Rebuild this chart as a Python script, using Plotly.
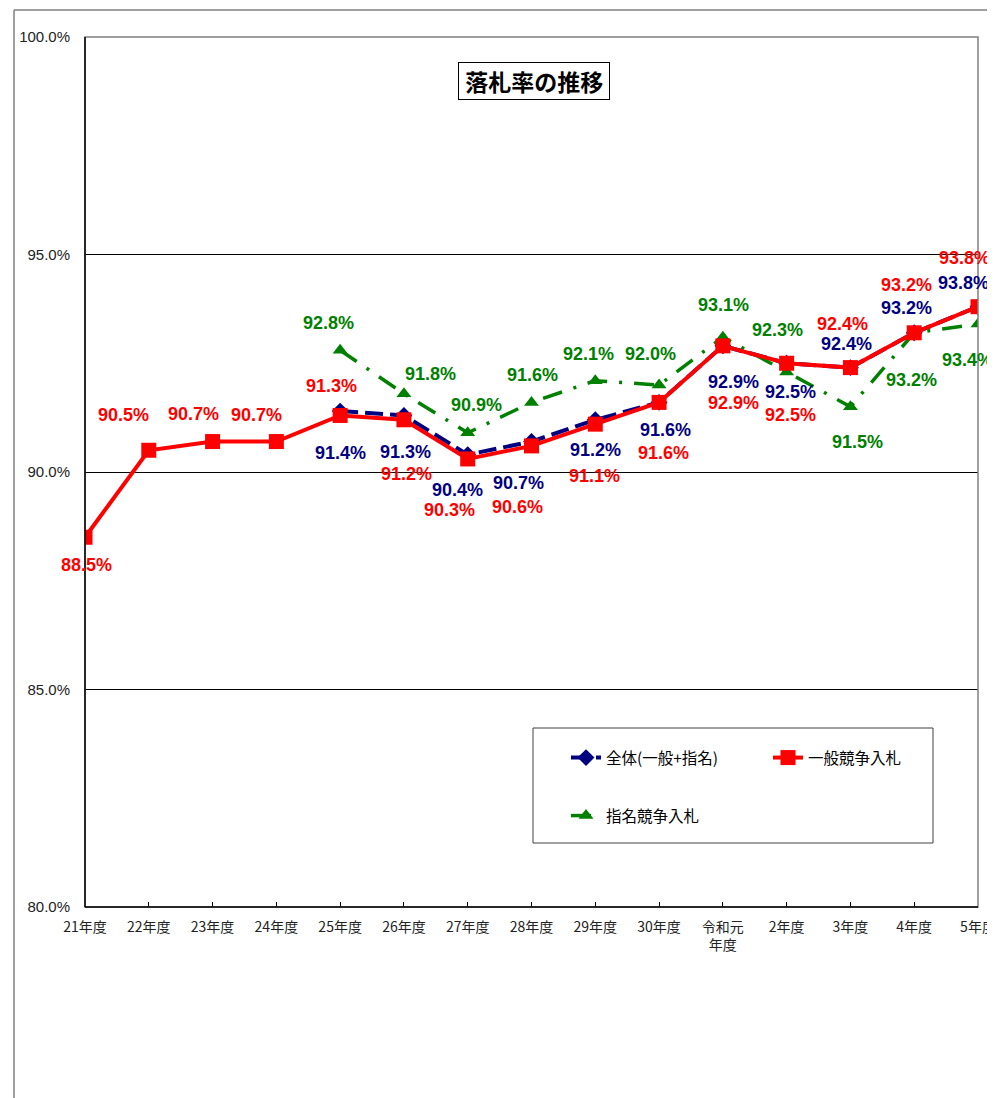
import plotly.graph_objects as go

categories = ["21年度", "22年度", "23年度", "24年度", "25年度", "26年度", "27年度", "28年度",
              "29年度", "30年度", "令和元<br>年度", "2年度", "3年度", "4年度", "5年度"]
zentai = [None, None, None, None, 91.4, 91.3, 90.4, 90.7, 91.2, 91.6, 92.9, 92.5, 92.4, 93.2, 93.8]
ippan = [88.5, 90.5, 90.7, 90.7, 91.3, 91.2, 90.3, 90.6, 91.1, 91.6, 92.9, 92.5, 92.4, 93.2, 93.8]
shimei = [None, None, None, None, 92.8, 91.8, 90.9, 91.6, 92.1, 92.0, 93.1, 92.3, 91.5, 93.2, 93.4]
y_ticks = [80, 85, 90, 95, 100]

# label offsets in pixels (dx, dy-down)
off_zentai = [None, None, None, None, (0, 42), (2, 37), (-10, 35), (-13, 41), (0, 30), (6, 28),
              (11, 36), (4, 29), (-4, -24), (-8, -25), (-15, -24)]
off_ippan = [(1, 28), (-25, -35), (-19, -28), (-20, -27), (-9, -29), (3, 54), (-18, 51), (-14, 61),
             (-1, 52), (4, 51), (11, 57), (4, 52), (-8, -44), (-8, -48), (-14, -49)]
off_shimei = [None, None, None, None, (-12, -27), (27, -20), (9, -28), (1, -27), (-7, -27), (-9, -31),
              (1, -32), (-9, -42), (7, 35), (-3, 47), (-11, 36)]

NAVY = "#000080"
RED = "#FF0000"
GREEN = "#008000"

# page body has an 8px default margin; compensate so the plot sits at the reference pixels
OFF = 8
W, H = 995 - OFF, 1098 - OFF
PL, PR, PT, PB = 85, 978, 37, 907  # plot area in page pixels

fig = go.Figure()
fig.add_trace(go.Scatter(x=categories, y=zentai, name="全体(一般+指名)", mode="lines+markers",
                         line=dict(color=NAVY, width=4, dash="18px,7px"),
                         marker=dict(symbol="diamond", size=13, color=NAVY),
                         legend="legend"))
fig.add_trace(go.Scatter(x=categories, y=shimei, name="指名競争入札", mode="lines+markers",
                         line=dict(color=GREEN, width=3.5, dash="20px,12px,3px,12px"),
                         marker=dict(symbol="triangle-up", size=13, color=GREEN),
                         legend="legend2"))
fig.add_trace(go.Scatter(x=categories, y=ippan, name="一般競争入札", mode="lines+markers",
                         line=dict(color=RED, width=4),
                         marker=dict(symbol="square", size=15, color=RED),
                         legend="legend"))

annotations = []
lab_font = "Liberation Sans, Arial, sans-serif"
for series, offs, col in [(zentai, off_zentai, NAVY), (ippan, off_ippan, RED), (shimei, off_shimei, GREEN)]:
    for c, v, o in zip(categories, series, offs):
        if v is None:
            continue
        annotations.append(dict(x=c, y=v, xref="x", yref="y", text=f"{v:.1f}%", showarrow=False,
                                xshift=o[0], yshift=-o[1], xanchor="center", yanchor="middle",
                                font=dict(family=lab_font, size=18, color=col, weight="bold")))


def px(xp):
    return (xp - PL) / (PR - PL)


def py(yp):
    return (PB - yp) / (PB - PT)


# title box
annotations.append(dict(x=px(534), y=py(81), xref="paper", yref="paper",
                        xanchor="center", yanchor="middle",
                        text="<b>\u00a0落札率の推移\u00a0</b>", showarrow=False,
                        font=dict(family="Noto Sans CJK JP", size=23, color="black"),
                        bordercolor="black", borderwidth=1, borderpad=1, bgcolor="white"))

shapes = [
    # plot border
    dict(type="rect", xref="paper", yref="paper", x0=0, y0=0, x1=1, y1=1,
         line=dict(color="#808080", width=1.5), layer="above"),
    dict(type="line", xref="paper", yref="paper", x0=0, y0=0, x1=0, y1=1,
         line=dict(color="black", width=1.5), layer="above"),
    dict(type="line", xref="paper", yref="paper", x0=0, y0=0, x1=1, y1=0,
         line=dict(color="black", width=1.5), layer="above"),
    # outer chart frame
    dict(type="line", xref="paper", yref="paper", x0=px(14), y0=py(10), x1=px(14), y1=py(1100),
         line=dict(color="#808080", width=1.5)),
    dict(type="line", xref="paper", yref="paper", x0=px(14), y0=py(10), x1=px(1000), y1=py(10),
         line=dict(color="#808080", width=1.5)),
    # legend box
    dict(type="rect", xref="paper", yref="paper", x0=px(533), y0=py(843), x1=px(933), y1=py(728),
         line=dict(color="#404040", width=1), fillcolor="white", layer="below"),
]

fig.update_layout(
    width=W, height=H, autosize=False,
    margin=dict(l=PL - OFF, r=995 - PR, t=PT - OFF, b=(H + OFF) - PB),
    plot_bgcolor="white", paper_bgcolor="white",
    font=dict(family="Noto Sans CJK JP", size=12, color="black"),
    annotations=annotations,
    shapes=shapes,
    legend=dict(orientation="h", x=px(566), y=py(741), xanchor="left", yanchor="top",
                entrywidth=157, entrywidthmode="pixels", bgcolor="rgba(0,0,0,0)",
                font=dict(family="Noto Sans CJK JP", size=15.5, color="black"), traceorder="normal"),
    legend2=dict(orientation="h", x=px(566), y=py(799), xanchor="left", yanchor="top",
                 bgcolor="rgba(0,0,0,0)",
                 font=dict(family="Noto Sans CJK JP", size=15.5, color="black")),
)
fig.update_xaxes(type="category", range=[0, 14], showgrid=False, showline=False, automargin=False,
                 ticks="inside", ticklen=5, tickcolor="black", tickwidth=1,
                 tickfont=dict(family="Noto Sans CJK JP", size=14, color="#222"),
                 ticklabelstandoff=10)
fig.update_yaxes(range=[80, 100], tickvals=y_ticks, ticktext=[f"{v:.1f}%" for v in y_ticks],
                 showgrid=True, gridcolor="black", gridwidth=1, zeroline=False, showline=False,
                 automargin=False,
                 ticks="", tickfont=dict(family="Liberation Sans, Arial", size=15, color="#222"),
                 ticklabelstandoff=14)

fig.write_html("out.html", config={"responsive": False})
